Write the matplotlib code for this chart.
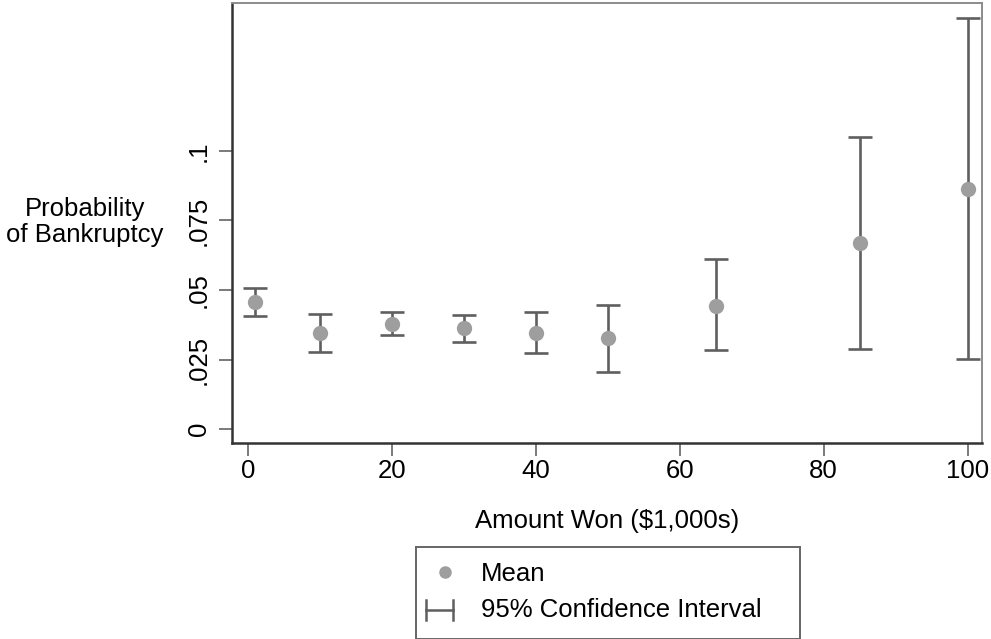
import numpy as np
import matplotlib
matplotlib.use('Agg')
import matplotlib.pyplot as plt

plt.rcParams['font.family'] = ['Liberation Sans', 'DejaVu Sans']

# Datos
monto = [1, 10, 20, 30, 40, 50, 65, 85, 100]
media = [0.0458, 0.0346, 0.0377, 0.0362, 0.0346, 0.0327, 0.0444, 0.0668, 0.0864]
ic_bajo = [0.0408, 0.0278, 0.0337, 0.0314, 0.0274, 0.0206, 0.0283, 0.0287, 0.0251]
ic_alto = [0.0506, 0.0414, 0.0422, 0.0409, 0.0422, 0.0445, 0.0610, 0.1049, 0.1477]

xticks = [0, 20, 40, 60, 80, 100]
yticks = [0, 0.025, 0.05, 0.075, 0.1]
ytick_labels = ['0', '.025', '.05', '.075', '.1']

color_barra = '#5f5f5f'
color_punto = '#9e9e9e'
tam = 18.5

fig = plt.figure(figsize=(9.91, 6.39), dpi=100)
ax = fig.add_axes([232 / 991, 1 - 443 / 639, 750 / 991, 440 / 639])

media = np.array(media)
err = [media - np.array(ic_bajo), np.array(ic_alto) - media]
ax.errorbar(monto, media, yerr=err, fmt='none', ecolor=color_barra,
            elinewidth=1.9, capsize=8.6, capthick=1.9, zorder=2)
ax.plot(monto, media, 'o', color=color_punto, markersize=10, zorder=3)

ax.set_xlim(-2.22, 102)
ax.set_ylim(-0.005, 0.1532)
ax.set_xticks(xticks)
ax.set_yticks(yticks)
ax.set_yticklabels(ytick_labels, rotation=90, va='center')
ax.tick_params(axis='both', length=9.4, width=1.3, color='#707070',
               labelsize=tam)
ax.tick_params(axis='x', pad=2)
ax.tick_params(axis='y', pad=6)

for lado in ['left', 'bottom']:
    ax.spines[lado].set_color('#333333')
    ax.spines[lado].set_linewidth(1.8)
for lado in ['top', 'right']:
    ax.spines[lado].set_color('#8c8c8c')
    ax.spines[lado].set_linewidth(1.4)

ax.set_xlabel('Amount Won ($1,000s)', fontsize=tam, labelpad=19)
ax.set_ylabel('Probability\nof Bankruptcy', fontsize=tam, rotation=0,
              ha='center', va='center', linespacing=1.1)
ax.yaxis.set_label_coords(-0.196, 0.502)

# Leyenda dibujada a mano
leg = fig.add_axes([416 / 991, 0, 384 / 991, 92 / 639])
leg.set_xlim(0, 384)
leg.set_ylim(92, 0)
leg.set_xticks([])
leg.set_yticks([])
for s in leg.spines.values():
    s.set_color('#666666')
    s.set_linewidth(1.4)
leg.plot([29], [25], 'o', color=color_punto, markersize=8)
leg.plot([10, 37], [63, 63], color=color_barra, lw=1.8)
leg.plot([10, 10], [53, 73], color=color_barra, lw=1.8)
leg.plot([37, 37], [53, 73], color=color_barra, lw=1.8)
leg.text(65, 27, 'Mean', fontsize=tam, va='center', ha='left')
leg.text(65, 63, '95% Confidence Interval', fontsize=tam, va='center', ha='left')

fig.savefig('out.png', dpi=100)
